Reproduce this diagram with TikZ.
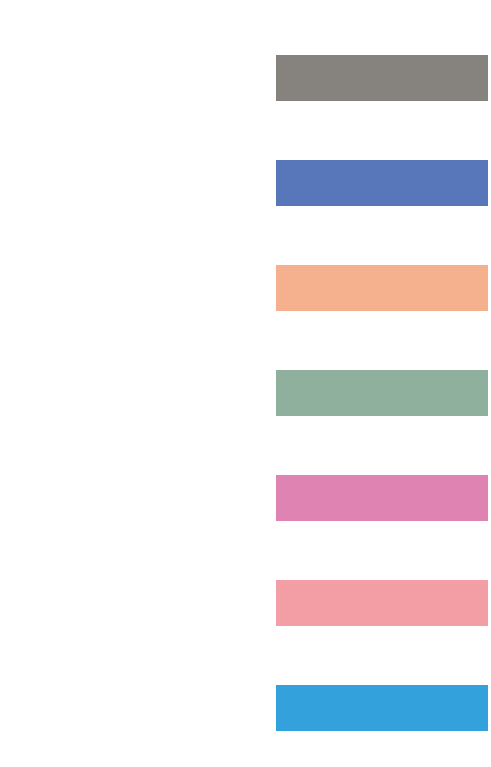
\documentclass[tikz,border=0pt]{standalone}
\definecolor{cA}{HTML}{86827E}
\definecolor{cB}{HTML}{5877BA}
\definecolor{cC}{HTML}{F5B08E}
\definecolor{cD}{HTML}{8FB09C}
\definecolor{cE}{HTML}{DF83B3}
\definecolor{cF}{HTML}{F39DA5}
\definecolor{cG}{HTML}{33A1DB}
\tikzset{bar/.style={draw=none,inner sep=0pt,outer sep=0pt,minimum width=212pt,minimum height=46pt,anchor=north west}}
\begin{document}
\begin{tikzpicture}[x=1pt,y=-1pt]
\useasboundingbox[fill=white] (0,0) rectangle (490,767);
\node[bar,fill=cA] (b1) at (276,55) {};
\node[bar,fill=cB] (b2) at (276,160) {};
\node[bar,fill=cC] (b3) at (276,265) {};
\node[bar,fill=cD] (b4) at (276,370) {};
\node[bar,fill=cE] (b5) at (276,475) {};
\node[bar,fill=cF] (b6) at (276,580) {};
\node[bar,fill=cG] (b7) at (276,685) {};
\end{tikzpicture}
\end{document}
